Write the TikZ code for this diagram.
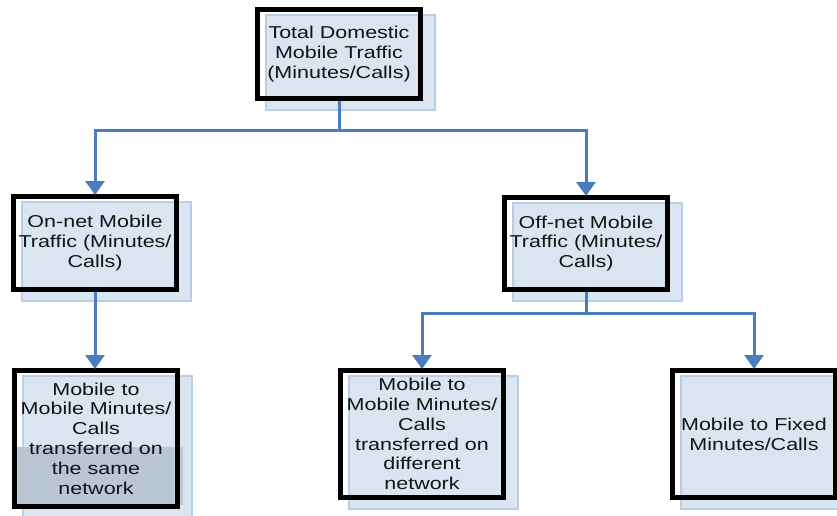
\documentclass[tikz,border=0pt]{standalone}
\usepackage{fontspec}
\newfontfamily\boxfont{Liberation Sans}[FakeStretch=1.25]
\usetikzlibrary{arrows.meta,calc,backgrounds}

\definecolor{flowblue}{HTML}{4A7DC0}
\definecolor{cardfill}{HTML}{DBE5F1}
\definecolor{cardedge}{HTML}{B9CDE5}
\definecolor{glareband}{HTML}{BAC6D4}

\tikzset{
  frame/.style={draw=black, line width=5pt, inner sep=0pt, align=center,
    minimum width=163pt, text=black!92,
    font=\boxfont\fontsize{17.2pt}{19.8pt}\selectfont},
  card/.style={fill=cardfill, draw=cardedge, line width=2.2pt},
  link/.style={draw=flowblue, line width=3pt},
  flow/.style={link, -{Triangle[width=19pt,length=14pt]}, shorten >=-1pt},
}

\newcommand{\cardbehind}[1]{%
  \path[card] ($(#1.north west)+(11,8)$) rectangle ($(#1.south east)+(12,9)$);}

\begin{document}
\begin{tikzpicture}[x=1pt,y=-1pt]
  \useasboundingbox (0,0) rectangle (837,516);

  % boxes (black frames with the text)
  \node[frame, minimum height=89pt] (total) at (339,54)
    {Total Domestic\\Mobile Traffic\\(Minutes/Calls)};
  \node[frame, minimum height=93pt] (onnet) at (95,243)
    {On-net Mobile\\Traffic (Minutes/\\Calls)};
  \node[frame, minimum height=92pt] (offnet) at (586,243.5)
    {Off-net Mobile\\Traffic (Minutes/\\Calls)};
  \node[frame, minimum height=136pt] (same) at (96,438.5)
    {Mobile to\\Mobile Minutes/\\Calls\\transferred on\\the same\\network};
  \node[frame, minimum height=127pt] (diff) at (422,434)
    {Mobile to\\Mobile Minutes/\\Calls\\transferred on\\different\\network};
  \node[frame, minimum height=127pt] (fixed) at (754,434)
    {Mobile to Fixed\\Minutes/Calls};

  % light blue cards offset behind each frame
  \begin{pgfonlayer}{background}
    \cardbehind{total}
    \cardbehind{onnet}
    \cardbehind{offnet}
    \cardbehind{same}
    \cardbehind{diff}
    \cardbehind{fixed}
    % greyish glare band across the lower part of the first leaf
    \fill[glareband]
      ($(same.south west)+(2,-62)$) rectangle ($(same.south east)+(3,-4)$);
  \end{pgfonlayer}

  % connectors
  \coordinate (split1) at ($(total.south)+(0,29)$);
  \coordinate (split2) at ($(offnet.south)+(0,21)$);

  \draw[link] (total.south) -- (split1);
  \draw[flow] (split1) -| (onnet.north);
  \draw[flow] (split1) -| (offnet.north);

  \draw[flow] (onnet.south) -- (onnet.south |- same.north);

  \draw[link] (offnet.south) -- (split2);
  \draw[flow] (split2) -| (diff.north);
  \draw[flow] (split2) -| (fixed.north);
\end{tikzpicture}
\end{document}
